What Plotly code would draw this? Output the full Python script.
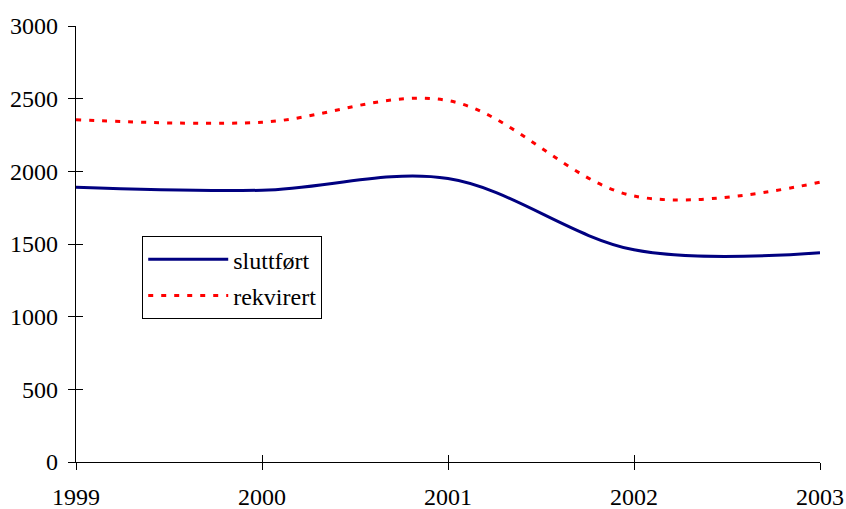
import plotly.graph_objects as go

years = [1999, 2000, 2001, 2002, 2003]
sluttfort = [1890, 1870, 1950, 1460, 1440]
rekvirert = [2355, 2338, 2487, 1830, 1925]
y_ticks = [0, 500, 1000, 1500, 2000, 2500, 3000]

FONT = "Liberation Serif"

fig = go.Figure()
fig.add_trace(go.Scatter(
    x=years, y=sluttfort, name="sluttført", mode="lines", legendgroup="a",
    line=dict(color="#000080", width=3, shape="spline", smoothing=1.0),
))
fig.add_trace(go.Scatter(
    x=years, y=rekvirert, name="rekvirert", mode="lines", legendgroup="b",
    line=dict(color="#FF0000", width=3, shape="spline", smoothing=1.0, dash="5px,8px"),
))
# invisible trace to anchor overlaid axes used for inside tick marks
fig.add_trace(go.Scatter(x=years, y=sluttfort, xaxis="x2", yaxis="y2",
                         mode="none", showlegend=False, hoverinfo="skip"))

axis_common = dict(showgrid=False, zeroline=False, showline=True,
                   linecolor="black", linewidth=1.2, tickcolor="black",
                   tickwidth=1.2, ticklen=7, automargin=False)

fig.update_layout(
    width=846, height=509,
    margin=dict(l=76, r=26, t=26, b=47),
    paper_bgcolor="white", plot_bgcolor="white",
    font=dict(family=FONT, size=24, color="black"),
    xaxis=dict(range=[1999, 2003], tickvals=years, ticks="outside",
               ticklabeloverflow="allow", ticklabelstandoff=6,
               tickfont=dict(family=FONT, size=24), **axis_common),
    yaxis=dict(range=[0, 3000], tickvals=y_ticks, ticks="outside",
               ticklabelstandoff=5,
               tickfont=dict(family=FONT, size=24), **axis_common),
    xaxis2=dict(range=[1999, 2003], tickvals=years, ticks="inside",
                overlaying="x", anchor="y2", showticklabels=False, **axis_common),
    yaxis2=dict(range=[0, 3000], tickvals=y_ticks, ticks="inside",
                overlaying="y", anchor="x2", showticklabels=False, **axis_common),
    showlegend=True,
    legend=dict(x=0.089, y=0.518, xanchor="left", yanchor="top",
                bgcolor="white", bordercolor="black", borderwidth=1,
                font=dict(family=FONT, size=24, color="black"),
                tracegroupgap=2, itemwidth=80),
)

fig.write_html("out.html", config={"displayModeBar": False},
               post_script="document.body.style.margin='0';")
